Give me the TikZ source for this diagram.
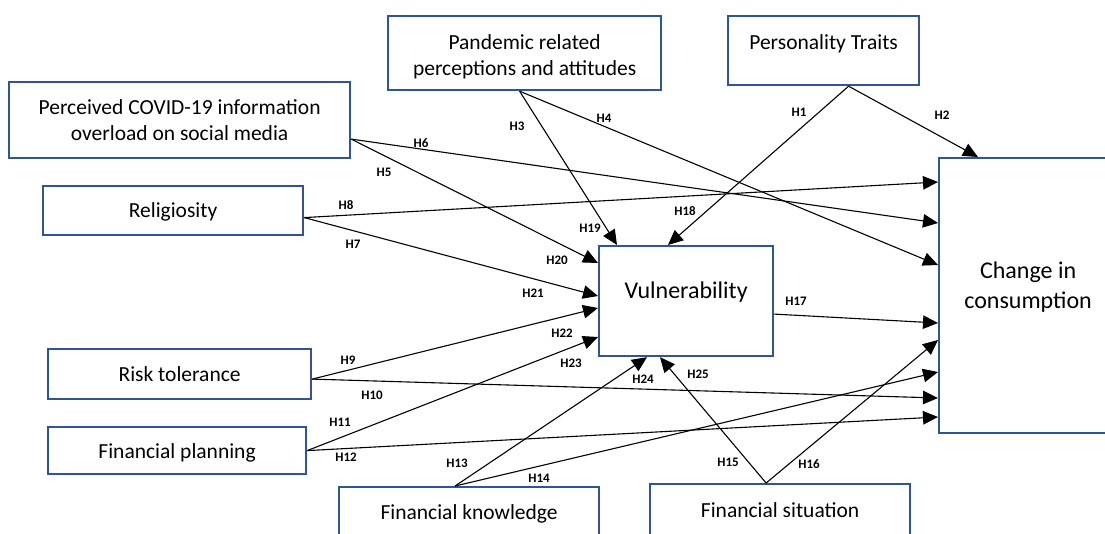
\documentclass[tikz,border=0pt]{standalone}
\usepackage{fontspec}
\setmainfont{Carlito}
\usepackage{xcolor}
\usepackage{tikz}
\usetikzlibrary{arrows.meta}

\definecolor{boxblue}{RGB}{47,85,151}

\begin{document}
\begin{tikzpicture}[x=1pt, y=-1pt,
 var/.style={rectangle, draw=boxblue, line width=2.2pt, fill=white,
   inner sep=0pt, anchor=north west, align=center,
   font=\fontsize{21.5}{26}\selectfont},
 big/.style={var, font=\fontsize{24}{30}\selectfont},
 path_edge/.style={-{Triangle[length=15pt, width=13.5pt]}, line width=1.1pt, draw=black},
 hyp/.style={font=\fontsize{13}{15}\selectfont\bfseries, inner sep=1pt}
]
\clip (0,0) rectangle (1105,534);
% constructs
\node[var, minimum width=273pt, text height=59pt, text depth=15pt] (pand) at (387,15) {Pandemic related\\perceptions and attitudes};
\node[var, minimum width=191pt, text height=33pt, text depth=36pt] (pers) at (727,15) {Personality Traits};
\node[var, minimum width=341pt, text height=58pt, text depth=18pt] (perc) at (8,81) {Perceived COVID-19 information\\overload on social media};
\node[var, minimum width=260pt, text height=31pt, text depth=18pt] (reli) at (42,185) {Religiosity};
\node[var, minimum width=263pt, text height=32pt, text depth=18pt] (risk) at (47,348) {Risk tolerance};
\node[var, minimum width=258pt, text height=31pt, text depth=16pt] (plan) at (47,426) {Financial planning};
\node[var, minimum width=260pt, text height=32pt, text depth=24pt] (know) at (338,486) {Financial knowledge};
\node[var, minimum width=260pt, text height=33pt, text depth=24pt] (sit) at (649,483) {Financial situation};
\node[big, minimum width=174pt, text height=52pt, text depth=58pt] (vul) at (598,245) {Vulnerability};
\node[big, minimum width=178pt, text height=150pt, text depth=125pt] (chg) at (938,157) {Change in\\consumption};
% hypotheses
\draw[path_edge] ([xshift=25pt]pers.south) -- ([xshift=70pt]vul.north west);
\draw[path_edge] ([xshift=25pt]pers.south) -- ([xshift=40pt]chg.north west);
\draw[path_edge] ([xshift=-5pt]pand.south) -- ([xshift=19pt]vul.north west);
\draw[path_edge] ([xshift=-5pt]pand.south) -- ([yshift=-108pt]chg.north west);
\draw[path_edge] ([yshift=-19pt]perc.east) -- ([yshift=-18pt]vul.north west);
\draw[path_edge] ([yshift=-19pt]perc.east) -- ([yshift=-66pt]chg.north west);
\draw[path_edge] ([yshift=-7pt]reli.east) -- ([yshift=-51pt]vul.north west);
\draw[path_edge] ([yshift=-7pt]reli.east) -- ([yshift=-25pt]chg.north west);
\draw[path_edge] ([yshift=-5pt]risk.east) -- ([yshift=-63pt]vul.north west);
\draw[path_edge] ([yshift=-5pt]risk.east) -- ([yshift=-241pt]chg.north west);
\draw[path_edge] (plan.east) -- ([yshift=-92pt]vul.north west);
\draw[path_edge] (plan.east) -- ([yshift=-260pt]chg.north west);
\draw[path_edge] ([xshift=-14pt]know.north) -- ([xshift=49pt]vul.south west);
\draw[path_edge] ([xshift=-14pt]know.north) -- ([yshift=-215pt]chg.north west);
\draw[path_edge] ([xshift=-14pt]sit.north) -- ([xshift=62pt]vul.south west);
\draw[path_edge] ([xshift=-14pt]sit.north) -- ([yshift=-183pt]chg.north west);
\draw[path_edge] ([yshift=-13pt]vul.east) -- ([yshift=-166pt]chg.north west);
% labels
\foreach \n/\x/\y in {1/799/112, 2/942/115, 3/517/126, 4/604/118, 5/384/172,
  6/421/143, 7/353/244, 8/346/205, 9/348/360, 10/372/395, 11/340/422,
  12/346/457, 13/457/463, 14/539/478, 15/728/462, 16/809/464, 17/796/301,
  18/685/211, 19/590/228, 20/557/260, 21/533/293, 22/562/333, 23/571/363,
  24/643/379, 25/698/374}
  \node[hyp] (h\n) at (\x,\y) {H\n};
\end{tikzpicture}
\end{document}
